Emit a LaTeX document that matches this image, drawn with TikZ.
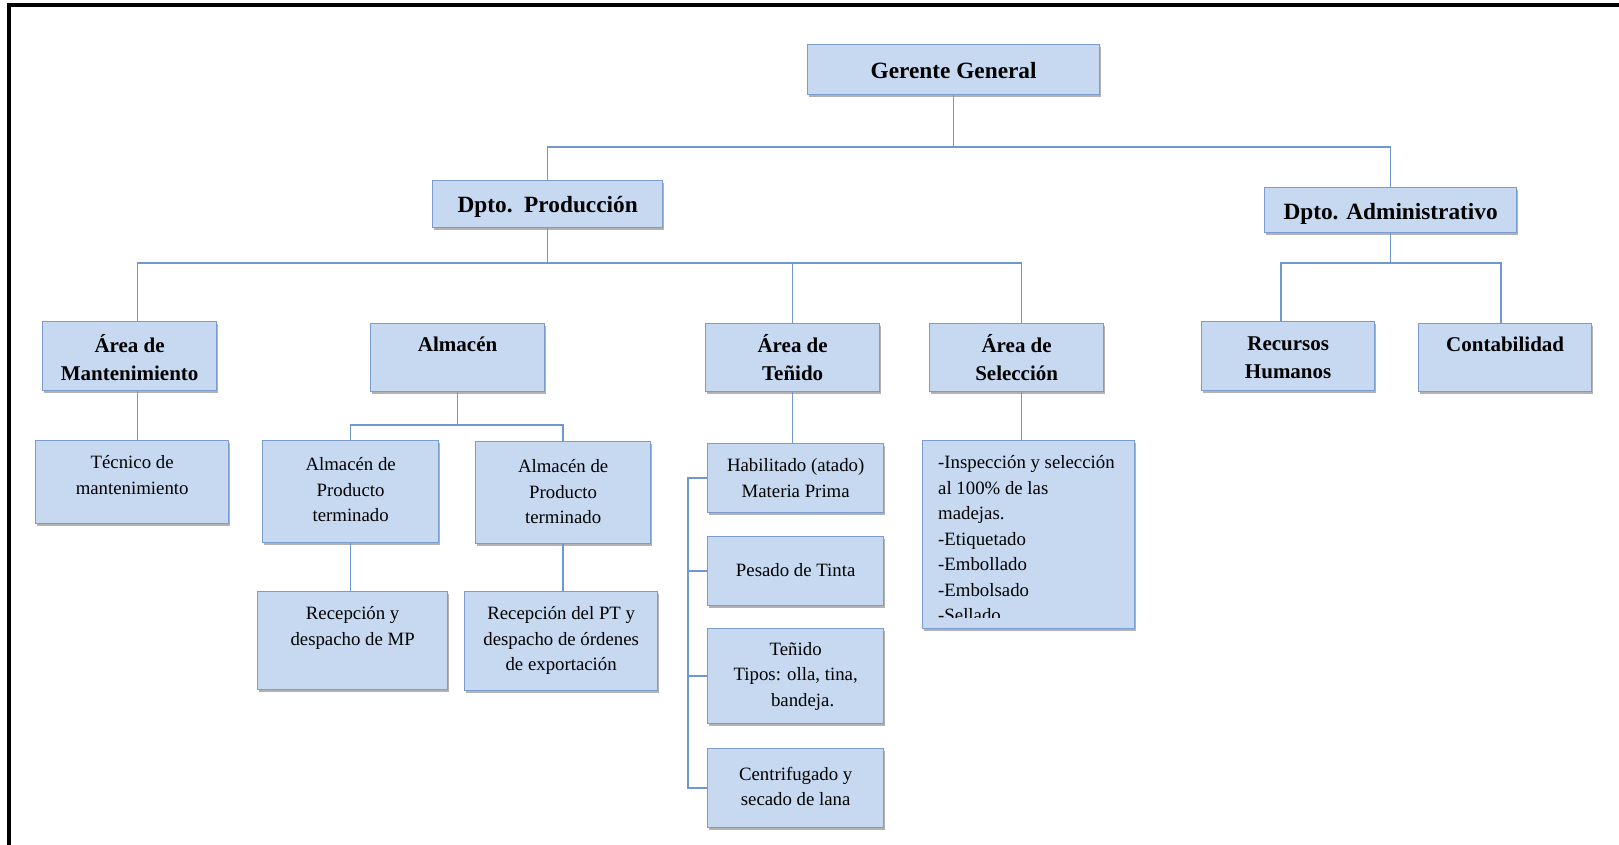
\documentclass[tikz,border=0pt]{standalone}
\usepackage{fontspec}
\setmainfont{Liberation Serif}
\usetikzlibrary{shadows}

\definecolor{boxfill}{HTML}{C6D9F1}
\definecolor{boxline}{HTML}{7A9CCF}
\definecolor{linkblue}{HTML}{6F97D0}

\tikzset{
  box/.style={draw=boxline, line width=1.3pt, fill=boxfill, inner sep=0pt,
    drop shadow={shadow xshift=1.5pt, shadow yshift=-2.5pt, opacity=0.3, fill=black}},
  toptxt/.style={anchor=north, inner sep=0pt, align=center,
    font=\fontsize{23.3}{28}\selectfont\bfseries, execute at begin node=\strut},
  sectxt/.style={anchor=north, inner sep=0pt, align=center,
    font=\fontsize{21}{28}\selectfont\bfseries, execute at begin node=\strut},
  regtxt/.style={anchor=north, inner sep=0pt, align=center,
    font=\fontsize{18.8}{25.5}\selectfont, execute at begin node=\strut},
  listtxt/.style={anchor=north west, inner sep=0pt, align=left,
    font=\fontsize{18.8}{25.5}\selectfont, execute at begin node=\strut},
  conn/.style={draw=linkblue, line width=1.6pt},
  frame/.style={draw=black, line width=4pt},
}

% box name, left, top, width, height, text style, text drop, text
\newcommand\orgbox[8]{%
  \node[box, anchor=north west, minimum width=#4pt, minimum height=#5pt] (#1) at (#2,#3) {};
  \node[#6] (#1-t) at ([yshift=-#7pt]#1.north) {#8};
}

\begin{document}
\begin{tikzpicture}[x=1pt, y=-1pt]
\useasboundingbox (0,0) rectangle (1619,845);

% page frame (top and left rules)
\draw[frame] (9,845) -- (9,5.3) -- (1619,5.3);

% top level
\orgbox{gg}{807}{44}{292}{50}{toptxt}{14.4}{Gerente General}
\orgbox{prod}{432}{180}{230}{47}{toptxt}{12.7}{Dpto.\ \ Producción}
\orgbox{adm}{1264}{187}{252}{45}{toptxt}{12.4}{Dpto. Administrativo}

% areas
\orgbox{mant}{42}{321}{174}{69}{sectxt}{13.5}{Área de\\Mantenimiento}
\orgbox{alm}{370}{323}{174}{68}{sectxt}{9.1}{Almacén}
\orgbox{ten}{705}{323}{174}{68}{sectxt}{11.2}{Área de\\Teñido}
\orgbox{sel}{929}{323}{174}{68}{sectxt}{11.2}{Área de\\Selección}
\orgbox{rh}{1201}{321}{173}{69}{sectxt}{15.2}{Recursos\\Humanos}
\orgbox{cont}{1418}{323}{173}{68}{sectxt}{9.1}{Contabilidad}

% sub-areas
\orgbox{tec}{35}{440}{193}{83}{regtxt}{15.7}{Técnico de\\mantenimiento}
\orgbox{apt1}{262}{440}{176}{102}{regtxt}{17.3}{Almacén de\\Producto\\terminado}
\orgbox{apt2}{475}{441}{175}{102}{regtxt}{18.7}{Almacén de\\Producto\\terminado}
\orgbox{rmp}{257}{591}{190}{98}{regtxt}{15.3}{Recepción y\\despacho de MP}
\orgbox{rpt}{464}{591}{193}{99}{regtxt}{15.3}{Recepción del PT y\\despacho de órdenes\\de exportación}
\orgbox{hab}{707}{443}{176}{69}{regtxt}{15.4}{Habilitado (atado)\\Materia Prima}
\orgbox{pes}{707}{536}{176}{69}{regtxt}{22.2}{Pesado de Tinta}
\orgbox{tin}{707}{628}{176}{95}{regtxt}{13.9}{Teñido\\Tipos: olla, tina,\hspace*{14pt}\\\hspace*{14pt}bandeja.}
\orgbox{cen}{707}{748}{176}{79}{regtxt}{18.9}{Centrifugado y\\secado de lana}

% selection tasks (text runs past the box and is cut off)
\node[box, anchor=north west, minimum width=212pt, minimum height=188pt] (lst) at (922,440) {};
\begin{scope}
  \clip (lst.north west) rectangle ([yshift=12pt]lst.south east);
  \node[listtxt] (lst-t) at ([xshift=16pt, yshift=-15.7pt]lst.north west)
    {-Inspección y selección\\al 100\% de las\\madejas.\\-Etiquetado\\-Embollado\\-Embolsado\\-Sellado};
\end{scope}

% connectors
\coordinate (topbus) at (0,147);
\coordinate (pbus) at (0,263);
\coordinate (abus) at (0,425);

\draw[conn] (gg.south) -- (gg.south |- topbus) -| (prod.north);
\draw[conn] (gg.south |- topbus) -| (adm.north);

\draw[conn] (prod.south) -- (prod.south |- pbus) -| ([xshift=8pt]mant.north);
\draw[conn] (prod.south |- pbus) -| (ten.north);
\draw[conn] (prod.south |- pbus) -| ([xshift=5pt]sel.north);

\draw[conn] (adm.south) -- (adm.south |- pbus) -| ([xshift=-7pt]rh.north);
\draw[conn] (adm.south |- pbus) -| ([xshift=-4pt]cont.north);

\draw[conn] ([xshift=8pt]mant.south) -- ([xshift=8pt]mant.south |- tec.north);

\draw[conn] (alm.south) -- (alm.south |- abus) -| (apt1.north);
\draw[conn] (alm.south |- abus) -| (apt2.north);
\draw[conn] (apt1.south) -- (apt1.south |- rmp.north);
\draw[conn] (apt2.south) -- (apt2.south |- rpt.north);

\draw[conn] (ten.south) -- (ten.south |- hab.north);
\draw[conn] (hab.west) -- ++(-19,0) |- (cen.west);
\draw[conn] (pes.west) -- ++(-19,0);
\draw[conn] (tin.west) -- ++(-19,0);

\draw[conn] ([xshift=5pt]sel.south) -- ([xshift=5pt]sel.south |- lst.north);
\end{tikzpicture}
\end{document}
